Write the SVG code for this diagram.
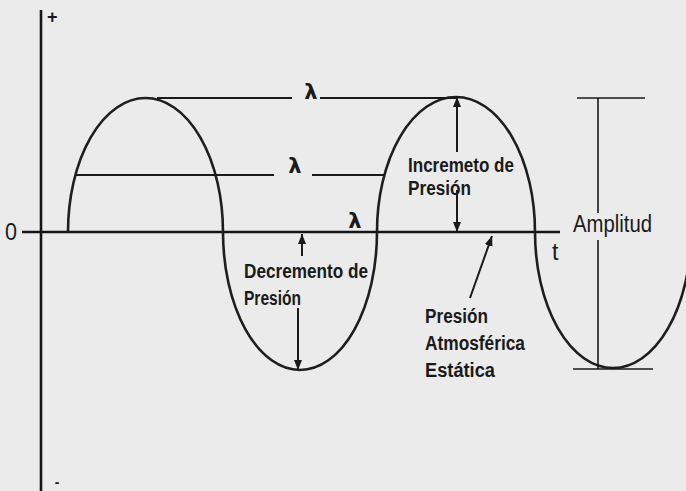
<svg xmlns="http://www.w3.org/2000/svg" width="686" height="491" viewBox="0 0 686 491">
  <style>
    .ax { stroke: #151515; stroke-width: 2.6; fill: none; }
    .wave { stroke: #1e1e1e; stroke-width: 2.6; fill: none; }
    .ln { stroke: #1a1a1a; stroke-width: 2.2; fill: none; }
    .thin { stroke: #1a1a1a; stroke-width: 1.6; fill: none; }
    .arr { stroke: #1a1a1a; stroke-width: 2; fill: none; marker-end: url(#ah); }
    .lbl { font-family: "Liberation Sans", Arial, sans-serif; font-size: 20px; font-weight: bold; fill: #1a1a1a; }
    .reg { font-family: "Liberation Sans", Arial, sans-serif; font-size: 23px; fill: #1a1a1a; }
    .lam { font-family: "DejaVu Sans", "Liberation Sans", sans-serif; font-size: 21px; font-weight: bold; fill: #1a1a1a; text-anchor: middle; }
  </style>
  <defs>
    <marker id="ah" viewBox="0 0 10 8" refX="10" refY="4" markerWidth="10" markerHeight="8" markerUnits="userSpaceOnUse" orient="auto">
      <path d="M0,0 L10,4 L0,8 z" fill="#1a1a1a"/>
    </marker>
  </defs>
  <rect x="0" y="0" width="686" height="491" fill="#ebebeb"/>

  <g id="axes">
    <line class="ax" x1="41" y1="10" x2="41" y2="491"/>
    <line class="ax" x1="22" y1="232" x2="560" y2="232"/>
    <text x="47" y="23" style="font-family:'Liberation Sans',sans-serif;font-size:18px;font-weight:bold;fill:#1a1a1a">+</text>
    <text x="57" y="487" style="font-family:'Liberation Sans',sans-serif;font-size:14px;font-weight:bold;fill:#1a1a1a" text-anchor="middle">-</text>
    <text class="reg" x="5" y="240" font-size="22" textLength="12" lengthAdjust="spacingAndGlyphs">0</text>
    <text class="reg" x="552" y="260">t</text>
  </g>

  <g id="wave">
    <path class="wave" d="M68,232 A77.5,134 0 0 1 223,232 A77,138 0 0 0 377,232 A79,135 0 0 1 535,232 A78,136 0 0 0 691,232"/>
  </g>

  <g id="wavelengths">
    <line class="ln" x1="157" y1="98" x2="292" y2="98"/>
    <line class="ln" x1="320" y1="98" x2="458" y2="98"/>
    <text class="lam" x="311" y="99">λ</text>
    <line class="ln" x1="76" y1="175" x2="274" y2="175"/>
    <line class="ln" x1="312" y1="175" x2="384" y2="175"/>
    <text class="lam" x="295" y="173">λ</text>
    <text class="lam" x="355" y="228">λ</text>
  </g>

  <g id="incremento">
    <text class="lbl" x="408" y="172" textLength="106" lengthAdjust="spacingAndGlyphs">Incremeto de</text>
    <text class="lbl" x="408" y="195" textLength="63" lengthAdjust="spacingAndGlyphs">Presión</text>
  </g>

  <g id="decremento">
    <text class="lbl" x="244" y="278" textLength="124" lengthAdjust="spacingAndGlyphs">Decremento de</text>
    <text class="lbl" x="244" y="305" textLength="57" lengthAdjust="spacingAndGlyphs">Presión</text>
  </g>

  <g id="presion-atmosferica">
    <text class="lbl" x="425" y="323" textLength="63" lengthAdjust="spacingAndGlyphs">Presión</text>
    <text class="lbl" x="425" y="350" textLength="100" lengthAdjust="spacingAndGlyphs">Atmosférica</text>
    <text class="lbl" x="425" y="377" textLength="70" lengthAdjust="spacingAndGlyphs">Estática</text>
  </g>

  <g id="amplitud">
    <line class="thin" x1="577" y1="98" x2="645" y2="98"/>
    <line class="thin" x1="573" y1="369" x2="653" y2="369"/>
    <line class="thin" x1="598" y1="98" x2="598" y2="213"/>
    <line class="thin" x1="598" y1="240" x2="598" y2="369"/>
    <text class="reg" x="573" y="232" textLength="79" lengthAdjust="spacingAndGlyphs">Amplitud</text>
  </g>

  <g id="connectors">
    <line class="arr" x1="457" y1="152" x2="457" y2="97"/>
    <line class="arr" x1="457" y1="190" x2="457" y2="232"/>
    <line class="arr" x1="302" y1="256" x2="302" y2="234"/>
    <line class="arr" x1="298" y1="308" x2="298" y2="370"/>
    <line class="arr" x1="470" y1="298" x2="492" y2="236"/>
  </g>
</svg>
